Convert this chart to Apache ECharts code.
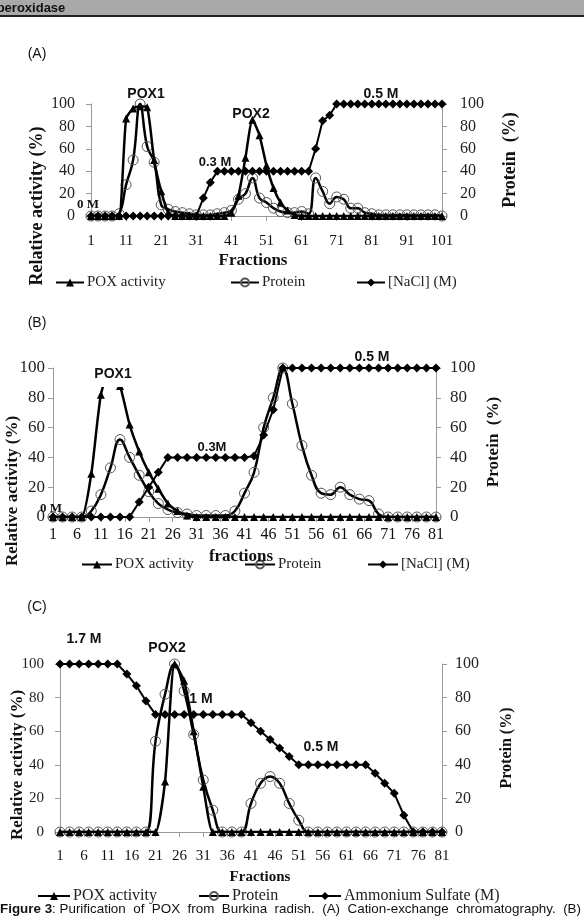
<!DOCTYPE html>
<html>
<head>
<meta charset="utf-8">
<script src="https://cdn.jsdelivr.net/npm/echarts@6.0.0/dist/echarts.min.js"></script>
<style>
html, body { margin: 0; padding: 0; background: #fff; }
#main { width: 584px; height: 922px; }
</style>
</head>
<body>
<div id="main"></div>
<script>
// (A) cation-exchange, every 2nd fraction
var fractionsA = [1,3,5,7,9,11,13,15,17,19,21,23,25,27,29,31,33,35,37,39,41,43,45,47,49,51,53,55,57,59,61,63,65,67,69,71,73,75,77,79,81,83,85,87,89,91,93,95,97,99,101];
var poxA = [0,0,0,0,0, 87,96,98,97,50, 22,3,0,0,0, 0,0,0,0,0, 3,18,52,86,72, 45,25,12,5,1, 0, 0,0,0,0,0,0,0,0,0,0, 0,0,0,0,0,0,0,0,0,0];
var proteinA = [0,0,0,0,2, 28,50,100,62,48, 10,6,4,3,2, 1,1,1,2,3, 5,15,20,34,16, 12,7,4,3,3, 4,2,34,22,11, 17,15,7,7,3, 2,1,1,1,1, 1,1,1,1,1, 0];
var naclA = [0,0,0,0,0,0,0,0,0,0,0,0,0,0,0,0, 16,30,40, 40,40,40,40,40,40,40,40,40,40,40,40,40, 60,85,90, 100,100,100,100,100,100,100,100,100,100,100,100,100,100,100,100];

// (B) and (C) axes show every fraction 1..81
var fractions81 = [1,2,3,4,5,6,7,8,9,10,11,12,13,14,15,16,17,18,19,20,21,22,23,24,25,26,27,28,29,30,31,32,33,34,35,36,37,38,39,40,41,42,43,44,45,46,47,48,49,50,51,52,53,54,55,56,57,58,59,60,61,62,63,64,65,66,67,68,69,70,71,72,73,74,75,76,77,78,79,80,81];
var sampled81 = [1,3,5,7,9,11,13,15,17,19,21,23,25,27,29,31,33,35,37,39,41,43,45,47,49,51,53,55,57,59,61,63,65,67,69,71,73,75,77,79,81];

var poxB = [0,0,0,0,29, 82,100,88,62,44, 30,19,9,4,1, 0,0,0,0,0, 0,0,0,0,0, 0,0,0,0,0, 0,0,0,0,0, 0,0,0,0,0, 0];
var proteinB = [0,0,0,0,4, 15,33,52,40,28, 17,9,5,3,2, 1,1,1,1,4, 16,30,60,80,100, 76,48,28,16,15, 20,15,12,11,2, 0,0,0,0,0, 0];
var naclB = [0,0,0,0,0,0,0,0,0, 10,20,30,40, 40,40,40,40,40,40,40,40, 41,55,72,100, 100,100,100,100,100,100,100,100,100,100,100,100,100,100,100,100];

var poxC = [0,0,0,0,0,0,0,0,0,0,0, 30,100,90,60,27, 0, 0,0,0,0,0,0,0,0,0,0,0,0,0,0,0,0,0,0,0,0,0,0,0,0];
var proteinC = [0,0,0,0,0,0,0,0,0,0, 54,82,100,84,58,31,13, 0,0,0, 17,29,33,29,17,7, 0,0,0,0,0,0,0,0,0,0,0,0,0,0,0];
var sulfateC = [100,100,100,100,100,100,100, 94,87,78,70, 70,70,70,70,70,70,70,70,70, 65,60,55,50,45, 40,40,40,40,40,40,40,40, 35,29,23,10, 0,0,0,0];

function pairs(samples, values) {
  return samples.map(function (f, i) { return [fractions81.indexOf(f), values[i]]; });
}

var serif = 'Liberation Serif';
var sans = 'Liberation Sans';
var grey = '#9a9a9a';

function xAx(gridIndex, data, every, margin, size) {
  return {
    type: 'category', gridIndex: gridIndex, data: data, boundaryGap: false,
    axisLine: { lineStyle: { color: grey, width: 1 } },
    axisTick: { interval: every, length: 5, lineStyle: { color: grey } },
    axisLabel: { interval: every, margin: margin, color: '#111', fontFamily: serif, fontSize: size }
  };
}
function yAx(gridIndex, pos, margin, size) {
  return {
    type: 'value', gridIndex: gridIndex, position: pos, min: 0, max: 100, interval: 20,
    splitLine: { show: false },
    axisLine: { show: true, lineStyle: { color: grey, width: 1 } },
    axisTick: { show: true, length: 5, lineStyle: { color: grey } },
    axisLabel: { margin: margin, color: '#222', fontFamily: serif, fontSize: size }
  };
}

function poxSeries(name, xi, yi, data) {
  return { name: name, type: 'line', xAxisIndex: xi, yAxisIndex: yi, data: data,
    smooth: 0.2, symbol: 'triangle', symbolSize: 8, showAllSymbol: true,
    lineStyle: { color: '#000', width: 2.5 }, itemStyle: { color: '#000' }, z: 4 };
}
function protSeries(name, xi, yi, data) {
  return { name: name, type: 'line', xAxisIndex: xi, yAxisIndex: yi, data: data,
    smooth: 0.45, symbol: 'circle', symbolSize: 10, showAllSymbol: true,
    lineStyle: { color: '#000', width: 2.5 },
    itemStyle: { color: 'rgba(255,255,255,0)', borderColor: '#555', borderWidth: 1 }, z: 3 };
}
function saltSeries(name, xi, yi, data) {
  return { name: name, type: 'line', xAxisIndex: xi, yAxisIndex: yi, data: data,
    symbol: 'diamond', symbolSize: 9, showAllSymbol: true,
    lineStyle: { color: '#000', width: 2 }, itemStyle: { color: '#000' }, z: 5 };
}

function legendItem(name, left, top, w, size) {
  return { data: [name], left: left, top: top, padding: 0, itemWidth: w, itemHeight: 10, itemGap: 4,
    selectedMode: false, textStyle: { fontFamily: serif, fontSize: size || 15, color: '#222', padding: [0, 0, 0, -2] } };
}

function txt(s, x, y, size, bold, family, extra) {
  var o = { type: 'text', x: x, y: y, z: 100,
    style: { text: s, fontFamily: family || sans, fontSize: size, fontWeight: bold ? 'bold' : 'normal',
      fill: '#111', align: 'center', verticalAlign: 'middle' } };
  if (extra) { for (var k in extra) { o[k] = extra[k]; } }
  return o;
}
function vtxt(s, x, y, size) {
  return txt(s, x, y, size, true, serif, { rotation: Math.PI / 2 });
}

var chart = echarts.init(document.getElementById('main'));
var option = {
  animation: false,
  grid: [
    { left: 91, top: 104, width: 351, height: 112 },
    { left: 53, top: 368, width: 383, height: 149 },
    { left: 60, top: 664, width: 382, height: 168 }
  ],
  xAxis: [
    xAx(0, fractionsA, 4, 18, 15),
    xAx(1, fractions81, 4, 10, 16),
    xAx(2, fractions81, 4, 17, 15)
  ],
  yAxis: [
    yAx(0, 'left', 16, 16), yAx(0, 'right', 18, 16),
    yAx(1, 'left', 8, 17), yAx(1, 'right', 14, 17),
    yAx(2, 'left', 16, 15), yAx(2, 'right', 13, 16)
  ],
  legend: [
    legendItem('POX activity', 55, 275, 28),
    legendItem('Protein', 230, 275, 28),
    legendItem('[NaCl] (M)', 356, 275, 28),
    legendItem('POX activity', 81, 557, 30),
    legendItem('Protein', 244, 557, 30),
    legendItem('[NaCl] (M)', 367, 557, 30),
    legendItem('POX activity', 37, 888, 32, 16),
    legendItem('Protein', 198, 888, 30, 16),
    legendItem('Ammonium Sulfate (M)', 308, 888, 32, 16)
  ],
  series: [
    protSeries('Protein', 0, 0, proteinA),
    poxSeries('POX activity', 0, 0, poxA),
    saltSeries('[NaCl] (M)', 0, 0, naclA),
    protSeries('Protein', 1, 2, pairs(sampled81, proteinB)),
    poxSeries('POX activity', 1, 2, pairs(sampled81, poxB)),
    saltSeries('[NaCl] (M)', 1, 2, pairs(sampled81, naclB)),
    protSeries('Protein', 2, 4, pairs(sampled81, proteinC)),
    poxSeries('POX activity', 2, 4, pairs(sampled81, poxC)),
    saltSeries('Ammonium Sulfate (M)', 2, 4, pairs(sampled81, sulfateC))
  ],
  graphic: [
    { type: 'rect', shape: { x: 0, y: 0, width: 584, height: 15 }, style: { fill: '#a9a9a9' }, z: 100 },
    { type: 'rect', shape: { x: 0, y: 15, width: 584, height: 2 }, style: { fill: '#222' }, z: 100 },
    txt('peroxidase', 31, 8, 13, true, sans, { z: 101 }),
    txt('(A)', 37, 54, 14, false, sans),
    txt('(B)', 37, 323, 14, false, sans),
    txt('(C)', 37, 607, 14, false, sans),
    // panel A notes
    txt('POX1', 146, 94, 14, true),
    txt('POX2', 251, 114, 14, true),
    txt('0.3 M', 215, 162, 13, true),
    txt('0 M', 88, 205, 13, true, serif),
    txt('0.5 M', 381, 94, 14, true),
    vtxt('Relative activity (%)', 37, 206, 18),
    vtxt('Protein  (%)', 510, 160, 18),
    txt('Fractions', 253, 261, 17, true, serif),
    // panel B notes
    { type: 'rect', shape: { x: 96, y: 363, width: 36, height: 24 }, style: { fill: '#fff' }, z: 99 },
    txt('POX1', 113, 374, 14, true),
    txt('0.3M', 212, 447, 13, true),
    txt('0 M', 51, 509, 13, true, serif),
    txt('0.5 M', 372, 357, 14, true),
    vtxt('Relative activity (%)', 13, 491, 17),
    vtxt('Protein  (%)', 494, 442, 17),
    txt('fractions', 241, 557, 17, true, serif),
    // panel C notes
    txt('1.7 M', 84, 639, 14, true),
    txt('POX2', 167, 648, 14, true),
    txt('1 M', 201, 699, 14, true),
    txt('0.5 M', 321, 747, 14, true),
    vtxt('Relative activity (%)', 18, 765, 17),
    vtxt('Protein (%)', 507, 748, 16),
    txt('Fractions', 260, 877, 15, true, serif),
    { type: 'text', x: 0, y: 909, z: 100,
      style: { text: '{b|Figure 3}: Purification  of  POX  from  Burkina  radish.  (A)  Cation-exchange  chromatography.  (B)',
        fontFamily: sans, fontSize: 13.4, fill: '#111', verticalAlign: 'middle',
        rich: { b: { fontFamily: sans, fontSize: 13.4, fontWeight: 'bold', fill: '#111' } } } }
  ]
};
chart.setOption(option);
</script>
</body>
</html>
